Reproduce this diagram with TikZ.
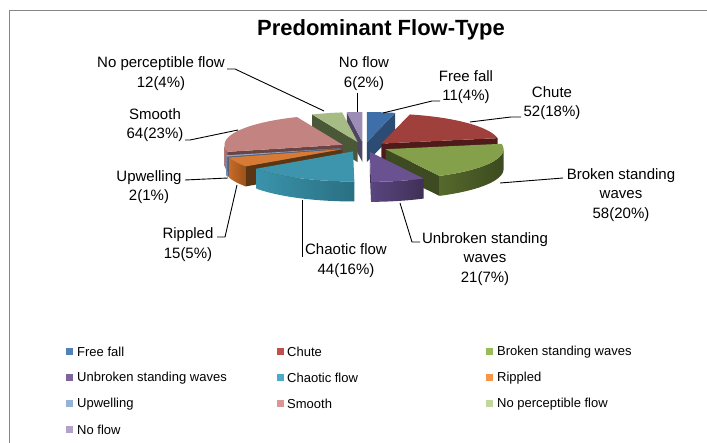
\documentclass[tikz,border=0pt]{standalone}
\usepackage{fontspec}
\setmainfont{Liberation Sans}
\definecolor{cFF}{HTML}{4F81BD}
\definecolor{cCH}{HTML}{C0504D}
\definecolor{cBR}{HTML}{9BBB59}
\definecolor{cUN}{HTML}{8064A2}
\definecolor{cCA}{HTML}{4BACC6}
\definecolor{cRI}{HTML}{F79646}
\definecolor{cUP}{HTML}{95B3D7}
\definecolor{cSM}{HTML}{D99694}
\definecolor{cNP}{HTML}{C3D69B}
\definecolor{cNF}{HTML}{B3A2C7}
\definecolor{frame}{HTML}{868686}
% slice colours: top, wall (light/dark), face
\definecolor{tNF}{HTML}{9C8DB6}\definecolor{wNF}{HTML}{6E6288}\definecolor{vNF}{HTML}{5A5070}\definecolor{fNF}{HTML}{4E4663}
\definecolor{tFF}{HTML}{3F6FA8}\definecolor{wFF}{HTML}{3A6599}\definecolor{vFF}{HTML}{2C4C73}\definecolor{fFF}{HTML}{2C4C73}
\definecolor{tNP}{HTML}{A6BC84}\definecolor{wNP}{HTML}{7C8E5C}\definecolor{vNP}{HTML}{5C6B44}\definecolor{fNP}{HTML}{4B5838}
\definecolor{tCH}{HTML}{A0403D}\definecolor{wCH}{HTML}{7A2C2A}\definecolor{vCH}{HTML}{5A1F1E}\definecolor{fCH}{HTML}{4E1B1A}
\definecolor{tSM}{HTML}{C28381}\definecolor{wSM}{HTML}{B07472}\definecolor{vSM}{HTML}{8A5856}\definecolor{fSM}{HTML}{6A4443}
\definecolor{tUP}{HTML}{8EA8CC}\definecolor{wUP}{HTML}{6F87A8}\definecolor{vUP}{HTML}{5A7094}\definecolor{fUP}{HTML}{4A5E7E}
\definecolor{tRI}{HTML}{D77A34}\definecolor{wRI}{HTML}{C86A28}\definecolor{vRI}{HTML}{9A5219}\definecolor{fRI}{HTML}{5C3513}
\definecolor{tBR}{HTML}{84A04A}\definecolor{wBR}{HTML}{56692C}\definecolor{vBR}{HTML}{3C4A1F}\definecolor{fBR}{HTML}{3E4A22}
\definecolor{tCA}{HTML}{3C95AD}\definecolor{wCA}{HTML}{3A93AB}\definecolor{vCA}{HTML}{2A6F82}\definecolor{fCA}{HTML}{1F5968}
\definecolor{tUN}{HTML}{6A5290}\definecolor{wUN}{HTML}{5A4580}\definecolor{vUN}{HTML}{3F3056}\definecolor{fUN}{HTML}{3F3056}
\def\pcx{364}\def\pcy{147}\def\prx{118}\def\pry{30}\def\pdd{20}\def\pEx{24}\def\pEy{5}
\newcommand\pieslice[3]{%
  \pgfmathsetmacro\pma{(#1+#2)/2}%
  \pgfmathsetmacro\pox{\pcx+\pEx*sin(\pma)}%
  \pgfmathsetmacro\poy{\pcy-\pEy*cos(\pma)}%
  \pgfmathsetmacro\psa{sin(#1)}%
  \pgfmathsetmacro\psb{sin(#2)}%
  \ifdim\psa pt<-0.001pt
    \fill[f#3] (\pox,\poy) -- ({\pox+\prx*sin(#1)},{\poy-\pry*cos(#1)}) -- ++(0,\pdd) -- (\pox,{\poy+\pdd}) -- cycle;
  \fi
  \ifdim\psb pt>0.001pt
    \fill[f#3] (\pox,\poy) -- ({\pox+\prx*sin(#2)},{\poy-\pry*cos(#2)}) -- ++(0,\pdd) -- (\pox,{\poy+\pdd}) -- cycle;
  \fi
  \pgfmathsetmacro\pba{max(#1,90)}%
  \pgfmathsetmacro\pbb{min(#2,270)}%
  \ifdim\pba pt<\pbb pt
    \shade[left color=w#3, right color=v#3] plot[domain=\pba:\pbb,samples=40] ({\pox+\prx*sin(\x)},{\poy-\pry*cos(\x)}) -- plot[domain=\pbb:\pba,samples=40] ({\pox+\prx*sin(\x)},{\poy+\pdd-\pry*cos(\x)}) -- cycle;
  \fi
  \fill[t#3] (\pox,\poy) -- plot[domain=#1:#2,samples=40] ({\pox+\prx*sin(\x)},{\poy-\pry*cos(\x)}) -- cycle;
}
\begin{document}
\begin{tikzpicture}[x=1pt,y=-1pt,
  lab/.style={font=\fontsize{15}{19.5}\selectfont, align=center, inner sep=0pt},
  legsq/.style={minimum size=7pt, inner sep=0pt, draw=none},
  legtx/.style={font=\fontsize{13}{14}\selectfont, anchor=west, inner sep=0pt},
  leader/.style={draw=black, line width=0.9pt}]
\useasboundingbox (0,0) rectangle (707,443);
\fill[white] (0,0) rectangle (707,443);
% frame
\draw[frame, line width=1.5pt] (9.5,443) -- (9.5,10.5) -- (707,10.5);
% title
\node[font=\fontsize{22}{26}\selectfont\bfseries, inner sep=0pt] (title) at (381,30) {Predominant Flow-Type};
% pie slices, back to front
\pieslice{352.421}{360}{NF}
\pieslice{0}{13.895}{FF}
\pieslice{337.263}{352.421}{NP}
\pieslice{13.895}{79.579}{CH}
\pieslice{256.421}{337.263}{SM}
\pieslice{253.895}{256.421}{UP}
\pieslice{234.947}{253.895}{RI}
\pieslice{79.579}{152.842}{BR}
\pieslice{179.368}{234.947}{CA}
\pieslice{152.842}{179.368}{UN}
% labels
\node[lab] (lNPF) at (161,73.5) {No perceptible flow\\12(4\%)};
\node[lab] (lNF) at (364,73.5) {No flow\\6(2\%)};
\node[lab] (lFF) at (466,87) {Free fall\\11(4\%)};
\node[lab] (lCH) at (552,103) {Chute\\52(18\%)};
\node[lab] (lBR) at (621,195) {Broken standing\\waves\\58(20\%)};
\node[lab] (lUN) at (485,259) {Unbroken standing\\waves\\21(7\%)};
\node[lab] (lCA) at (346,260.5) {Chaotic flow\\44(16\%)};
\node[lab] (lRI) at (188,244.5) {Rippled\\15(5\%)};
\node[lab] (lUP) at (149,187) {Upwelling\\2(1\%)};
\node[lab] (lSM) at (155,125) {Smooth\\64(23\%)};
% leader end points
\coordinate (aNPF) at (227,69);  \coordinate (sNPF) at (324,111);
\coordinate (aNF) at (357,93);   \coordinate (sNF) at (357,112);
\coordinate (aFF) at (440,101);  \coordinate (sFF) at (383,113);
\coordinate (aCH) at (521,117);  \coordinate (sCH) at (470,122);
\coordinate (aBR) at (563,178);  \coordinate (sBR) at (500,183);
\coordinate (aUN) at (420,242);  \coordinate (sUN) at (400,203);
\coordinate (aCA) at (302,257);  \coordinate (sCA) at (302,200);
\coordinate (aRI) at (217,237);  \coordinate (sRI) at (237,185);
\coordinate (aUP) at (185,180);  \coordinate (sUP) at (228,178);
\coordinate (aSM) at (185,140);  \coordinate (sSM) at (238,130);
\draw[leader] (aNPF) -- ++(8,0) -- (sNPF);
\draw[leader] (aNF) -- (sNF);
\draw[leader] (aFF) -- ++(-8,0) -- (sFF);
\draw[leader] (aCH) -- ++(-10,0) -- (sCH);
\draw[leader] (aBR) -- (sBR);
\draw[leader] (aUN) -- ++(-8,0) -- (sUN);
\draw[leader] (aCA) -- (sCA);
\draw[leader] (aRI) -- ++(8,0) -- (sRI);
\draw[leader] (aUP) -- (sUP);
\draw[leader] (aSM) -- ++(5,0) -- (sSM);
% legend
\node[legsq, fill=cFF] (q1) at (69.5,352) {};  \node[legtx] (t1) at (77,352) {Free fall};
\node[legsq, fill=cCH] (q2) at (280,352) {};   \node[legtx] (t2) at (287,352) {Chute};
\node[legsq, fill=cBR] (q3) at (489.5,352) {}; \node[legtx] (t3) at (497,352) {Broken standing waves};
\node[legsq, fill=cUN] (q4) at (69.5,378) {};  \node[legtx] (t4) at (77,378) {Unbroken standing waves};
\node[legsq, fill=cCA] (q5) at (280,378) {};   \node[legtx] (t5) at (287,378) {Chaotic flow};
\node[legsq, fill=cRI] (q6) at (489.5,378) {}; \node[legtx] (t6) at (497,378) {Rippled};
\node[legsq, fill=cUP] (q7) at (69.5,404) {};  \node[legtx] (t7) at (77,404) {Upwelling};
\node[legsq, fill=cSM] (q8) at (280,404) {};   \node[legtx] (t8) at (287,404) {Smooth};
\node[legsq, fill=cNP] (q9) at (489.5,404) {}; \node[legtx] (t9) at (497,404) {No perceptible flow};
\node[legsq, fill=cNF] (q10) at (69.5,430) {}; \node[legtx] (t10) at (77,430) {No flow};
\end{tikzpicture}
\end{document}
